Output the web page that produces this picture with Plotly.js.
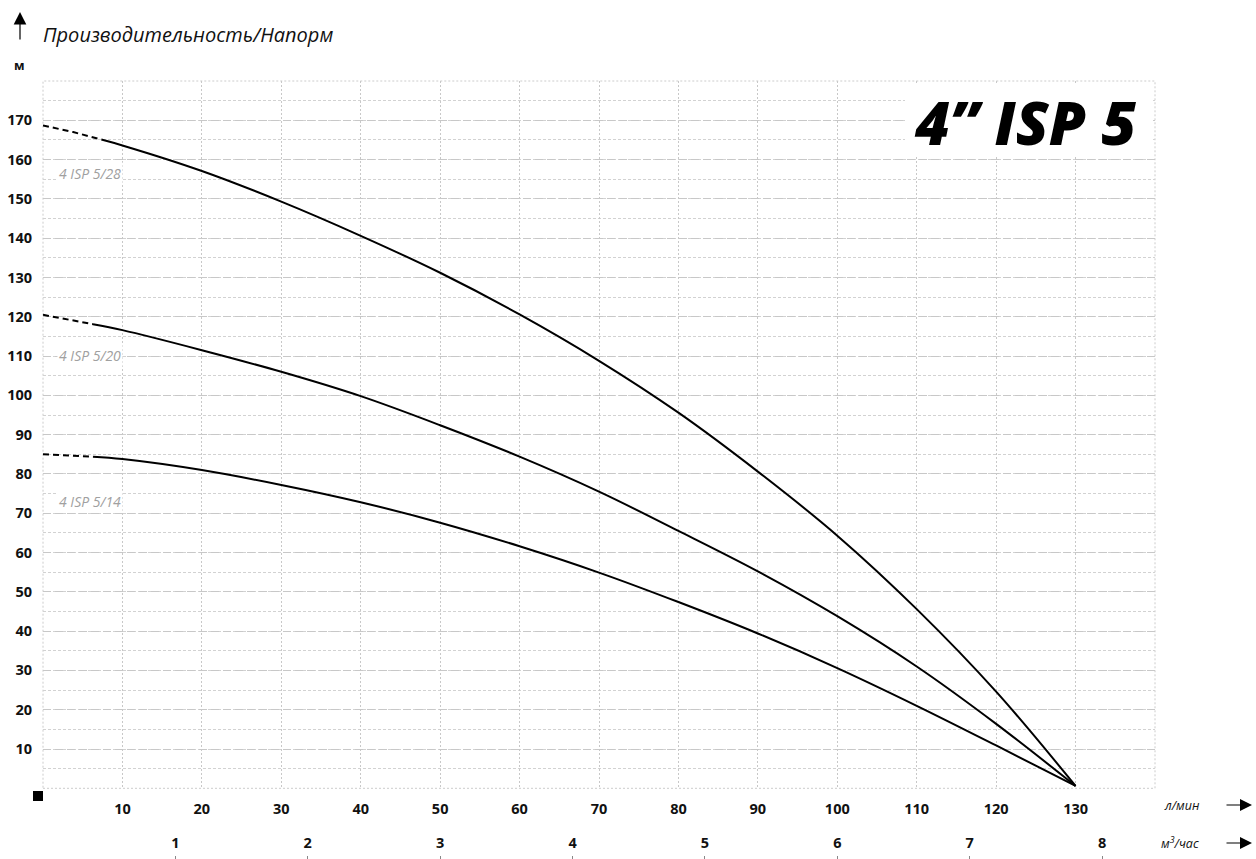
<!DOCTYPE html>
<html><head><meta charset="utf-8">
<script src="https://cdn.plot.ly/plotly-3.0.1.min.js"></script>
<style>html,body{margin:0;padding:0;background:#fff}#chart{width:1256px;height:859px}</style>
</head><body><div id="chart"></div>
<script>
// ---- data ----
const flowLmin   = [10, 20, 30, 40, 50, 60, 70, 80, 90, 100, 110, 120, 130];
const head_5_28  = [163.6, 157.1, 149.3, 140.6, 131.2, 120.6, 108.8, 95.6, 80.6, 64.3, 45.6, 24.6, 0.6];
const head_5_20  = [116.6, 111.5, 106.0, 99.8, 92.4, 84.4, 75.5, 65.5, 55.2, 43.8, 31.0, 16.4, 0.6];
const head_5_14  = [83.8, 81.0, 77.2, 72.8, 67.6, 61.6, 54.9, 47.4, 39.4, 30.6, 21.0, 10.9, 0.6];
// start of the solid part and the dashed low-flow extension
const start_5_28 = {x: 7.35, y: 165.1};
const start_5_20 = {x: 6.3, y: 118.1};
const start_5_14 = {x: 6.3, y: 84.4};
const dashX_5_28 = [0, 3.8, 7.35], dashY_5_28 = [168.7, 167.0, 165.1];
const dashX_5_20 = [0, 6.3],       dashY_5_20 = [120.5, 118.1];
const dashX_5_14 = [0, 6.3],       dashY_5_14 = [85.0, 84.4];
const seriesNames = ['4 ISP 5/28', '4 ISP 5/20', '4 ISP 5/14'];
const lminTicks = [10, 20, 30, 40, 50, 60, 70, 80, 90, 100, 110, 120, 130];
const m3hTicks  = [1, 2, 3, 4, 5, 6, 7, 8];
const headTicks = [10, 20, 30, 40, 50, 60, 70, 80, 90, 100, 110, 120, 130, 140, 150, 160, 170];

// ---- geometry helpers ----
const W = 1256, H = 859, L = 43, R = 101, T = 81, B = 4;
const pw = W - L - R, ph = H - T - B;
const px = p => (p - L) / pw;
const py = p => (H - B - p) / ph;

const FONT = 'Open Sans';
const gridC = '#c8c8c8';

function solid(start, ys) {
  return {x: [start.x].concat(flowLmin), y: [start.y].concat(ys)};
}
const s28 = solid(start_5_28, head_5_28);
const s20 = solid(start_5_20, head_5_20);
const s14 = solid(start_5_14, head_5_14);

const lineSolid = {color: '#000', width: 2, shape: 'spline', smoothing: 1};
const lineDash  = {color: '#000', width: 2, dash: '6px,4px'};

const traces = [
  {x: s28.x, y: s28.y, mode: 'lines', line: lineSolid, name: seriesNames[0], hoverinfo: 'skip'},
  {x: s20.x, y: s20.y, mode: 'lines', line: lineSolid, name: seriesNames[1], hoverinfo: 'skip'},
  {x: s14.x, y: s14.y, mode: 'lines', line: lineSolid, name: seriesNames[2], hoverinfo: 'skip'},
  {x: dashX_5_28, y: dashY_5_28, mode: 'lines', line: lineDash, hoverinfo: 'skip'},
  {x: dashX_5_20, y: dashY_5_20, mode: 'lines', line: lineDash, hoverinfo: 'skip'},
  {x: dashX_5_14, y: dashY_5_14, mode: 'lines', line: lineDash, hoverinfo: 'skip'},
  {x: [], y: [], xaxis: 'x2', yaxis: 'y', mode: 'lines', hoverinfo: 'skip'}
];

const tickFont = {family: FONT, size: 14.5, weight: 700, color: '#111'};
const labelFont = {family: FONT, size: 14, style: 'italic', color: '#a0a0a0'};

const layout = {
  width: W, height: H,
  margin: {l: L, r: R, t: T, b: B, pad: 0},
  paper_bgcolor: '#fff', plot_bgcolor: '#fff',
  showlegend: false,
  xaxis: {
    range: [0, 140], tickmode: 'array', tickvals: lminTicks,
    ticks: '', ticklabelstandoff: 10, tickfont: tickFont,
    showline: false, zeroline: false,
    showgrid: true, gridcolor: gridC, gridwidth: 1, griddash: '2px,2px',
    fixedrange: true
  },
  xaxis2: {
    overlaying: 'x', anchor: 'free', position: 0, side: 'top',
    range: [0, 140 * 0.06], tickmode: 'array', tickvals: m3hTicks,
    ticks: 'inside', ticklen: 4, tickcolor: '#888', tickwidth: 1,
    ticklabelstandoff: 4, tickfont: tickFont,
    showline: false, zeroline: false, showgrid: false, fixedrange: true
  },
  yaxis: {
    domain: [py(788.3), 1],
    range: [0, 180], tickmode: 'array', tickvals: headTicks,
    ticks: '', ticklabelstandoff: 10, tickfont: tickFont,
    showline: false, zeroline: false,
    showgrid: true, gridcolor: gridC, gridwidth: 1, griddash: '8px,4px',
    minor: {tickmode: 'linear', tick0: 0, dtick: 5, showgrid: true, gridcolor: '#d2d2d2', gridwidth: 1, griddash: '3px,2px'},
    fixedrange: true
  },
  shapes: [
    // dotted frame of the plotting area
    {type: 'rect', xref: 'paper', yref: 'paper', x0: 0, x1: 1, y0: py(788.3), y1: 1,
     line: {color: '#cccccc', width: 1, dash: '2px,2px'}, layer: 'below'},
    // white box behind the model title
    {type: 'rect', xref: 'paper', yref: 'paper', x0: px(905), x1: px(1153), y0: py(156), y1: py(84),
     fillcolor: '#fff', line: {width: 0}, layer: 'above'},
    // black origin square
    {type: 'rect', xref: 'paper', yref: 'paper', x0: px(33), x1: px(43), y0: py(801), y1: py(791),
     fillcolor: '#000', line: {width: 0}, layer: 'above'}
  ],
  annotations: [
    {text: 'Производительность/Напорм', xref: 'paper', yref: 'paper', x: px(41), y: py(34),
     xanchor: 'left', yanchor: 'middle', showarrow: false,
     font: {family: FONT, size: 20, style: 'italic', color: '#111'}},
    {text: 'м', xref: 'paper', yref: 'paper', x: px(19), y: py(66), xanchor: 'center', yanchor: 'middle',
     showarrow: false, font: {family: FONT, size: 12.5, weight: 700, color: '#111'}},
    {text: '', xref: 'paper', yref: 'paper', x: px(20), y: py(12), ax: 0, ay: 29, axref: 'pixel', ayref: 'pixel',
     showarrow: true, arrowhead: 2, arrowsize: 2.1, arrowwidth: 1.2, arrowcolor: '#000'},
    {text: '4” ISP 5', xref: 'paper', yref: 'paper', x: px(1139), y: py(122), xanchor: 'right', yanchor: 'middle',
     showarrow: false, font: {family: FONT, size: 60, weight: 800, style: 'italic', color: '#000'}},
    {text: seriesNames[0], xref: 'x', yref: 'y', x: 1.8, y: 156.4, xanchor: 'left', yanchor: 'middle',
     showarrow: false, bgcolor: '#fff', borderpad: 1, font: labelFont},
    {text: seriesNames[1], xref: 'x', yref: 'y', x: 1.8, y: 110.2, xanchor: 'left', yanchor: 'middle',
     showarrow: false, bgcolor: '#fff', borderpad: 1, font: labelFont},
    {text: seriesNames[2], xref: 'x', yref: 'y', x: 1.8, y: 72.9, xanchor: 'left', yanchor: 'middle',
     showarrow: false, bgcolor: '#fff', borderpad: 1, font: labelFont},
    {text: 'л/мин', xref: 'paper', yref: 'paper', x: px(1162), y: py(805), xanchor: 'left', yanchor: 'middle',
     showarrow: false, font: {family: FONT, size: 12.5, style: 'italic', color: '#111'}},
    {text: '', xref: 'paper', yref: 'paper', x: px(1252), y: py(805), ax: -27, ay: 0, axref: 'pixel', ayref: 'pixel',
     showarrow: true, arrowhead: 2, arrowsize: 2, arrowwidth: 1.2, arrowcolor: '#000'},
    {text: 'м<sup>3</sup>/час', xref: 'paper', yref: 'paper', x: px(1159), y: py(843), xanchor: 'left', yanchor: 'middle',
     showarrow: false, font: {family: FONT, size: 12.5, style: 'italic', color: '#111'}},
    {text: '', xref: 'paper', yref: 'paper', x: px(1252), y: py(843), ax: -27, ay: 0, axref: 'pixel', ayref: 'pixel',
     showarrow: true, arrowhead: 2, arrowsize: 2, arrowwidth: 1.2, arrowcolor: '#000'}
  ]
};

Plotly.newPlot('chart', traces, layout, {displayModeBar: false, staticPlot: true});
</script>
</body></html>
